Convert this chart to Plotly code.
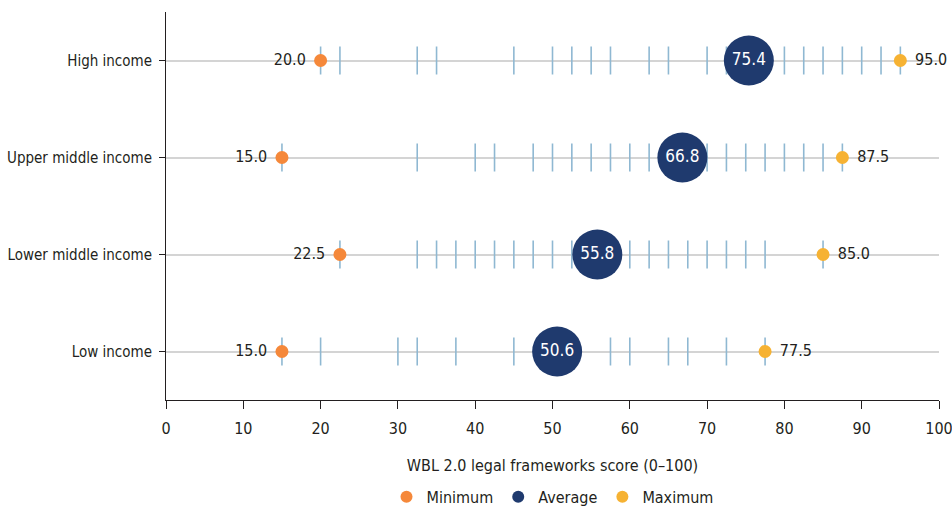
import plotly.graph_objects as go

# Income groups, bottom to top
groups = ["Low income", "Lower middle income", "Upper middle income", "High income"]

# Distinct economy scores observed within each group
scores_low = [15, 20, 30, 32.5, 37.5, 45, 50, 52.5, 57.5, 60, 65, 67.5, 72.5, 77.5]
scores_lower_mid = [22.5, 32.5, 35, 37.5, 40, 42.5, 45, 47.5, 50, 52.5, 55, 57.5,
                    60, 62.5, 65, 67.5, 70, 72.5, 75, 77.5, 85]
scores_upper_mid = [15, 32.5, 40, 42.5, 47.5, 50, 52.5, 55, 57.5, 60, 62.5, 65, 67.5,
                    70, 72.5, 75, 77.5, 80, 82.5, 85, 87.5]
scores_high = [20, 22.5, 32.5, 35, 45, 50, 52.5, 55, 57.5, 62.5, 65, 70, 72.5, 75,
               77.5, 80, 82.5, 85, 87.5, 90, 92.5, 95]

minimum = [15.0, 22.5, 15.0, 20.0]
average = [50.6, 55.8, 66.8, 75.4]
maximum = [77.5, 85.0, 87.5, 95.0]

x_ticks = [0, 10, 20, 30, 40, 50, 60, 70, 80, 90, 100]

FONT = "Liberation Sans Narrow, DejaVu Sans Condensed, Roboto, sans-serif"
TEXT = "#231f20"

fig = go.Figure()

# Vertical strokes for each economy score
strip_x, strip_y = [], []
for g, vals in zip(groups, [scores_low, scores_lower_mid, scores_upper_mid, scores_high]):
    strip_x += vals
    strip_y += [g] * len(vals)
fig.add_trace(go.Scatter(
    x=strip_x, y=strip_y, mode="markers", showlegend=False, hoverinfo="skip",
    marker=dict(symbol="line-ns", size=20, line=dict(width=1.6, color="#8fb8d2")),
))

fig.add_trace(go.Scatter(
    x=minimum, y=groups, mode="markers", name="Minimum",
    marker=dict(size=13, color="#f5883a"),
))

fig.add_trace(go.Scatter(
    x=average, y=groups, mode="markers+text", name="Average",
    text=[f"{v:.1f}" for v in average], textposition="middle center",
    textfont=dict(size=17, color="white", family=FONT),
    marker=dict(size=50, color="#1f3a6e"),
))

fig.add_trace(go.Scatter(
    x=maximum, y=groups, mode="markers", name="Maximum",
    marker=dict(size=13, color="#f6b233"),
))

# Value labels beside the minimum and maximum dots (invisible wider anchors give padding)
fig.add_trace(go.Scatter(
    x=minimum, y=groups, mode="markers+text", showlegend=False, hoverinfo="skip",
    text=[f"{v:.1f}" for v in minimum], textposition="middle left",
    textfont=dict(size=16, color=TEXT, family=FONT),
    marker=dict(size=22, opacity=0), cliponaxis=False,
))
fig.add_trace(go.Scatter(
    x=maximum, y=groups, mode="markers+text", showlegend=False, hoverinfo="skip",
    text=[f"{v:.1f}" for v in maximum], textposition="middle right",
    textfont=dict(size=16, color=TEXT, family=FONT),
    marker=dict(size=22, opacity=0), cliponaxis=False,
))

fig.update_layout(
    width=952, height=506,
    margin=dict(l=166, r=13, t=12, b=106, autoexpand=False),
    paper_bgcolor="white", plot_bgcolor="white",
    font=dict(family=FONT, size=15, color=TEXT),
    legend=dict(orientation="h", x=0.5, xanchor="center",
                yref="container", y=0.018, yanchor="middle",
                itemsizing="constant", itemwidth=30,
                font=dict(size=16, color=TEXT, family=FONT),
                traceorder="normal"),
)
fig.update_xaxes(
    range=[0, 100], tickvals=x_ticks, ticktext=[str(t) for t in x_ticks],
    showgrid=False, zeroline=False, showline=True, linecolor="#231f20", linewidth=1,
    ticks="outside", ticklen=8, tickcolor="#231f20", automargin=False,
    ticklabeloverflow="allow", ticklabelstandoff=6,
    tickfont=dict(size=16, family=FONT, color=TEXT),
    title=dict(text="WBL 2.0 legal frameworks score (0–100)", standoff=22,
               font=dict(size=16, family=FONT, color=TEXT)),
)
fig.update_yaxes(
    categoryorder="array", categoryarray=groups, range=[-0.5, 3.5],
    showgrid=True, gridcolor="#d4d4d4", gridwidth=2,
    showline=True, linecolor="#231f20", linewidth=1, automargin=False,
    ticks="outside", ticklen=6, tickcolor="#231f20",
    tickfont=dict(size=15, family=FONT, color=TEXT), ticklabelstandoff=4,
)

fig.write_html("out.html")
